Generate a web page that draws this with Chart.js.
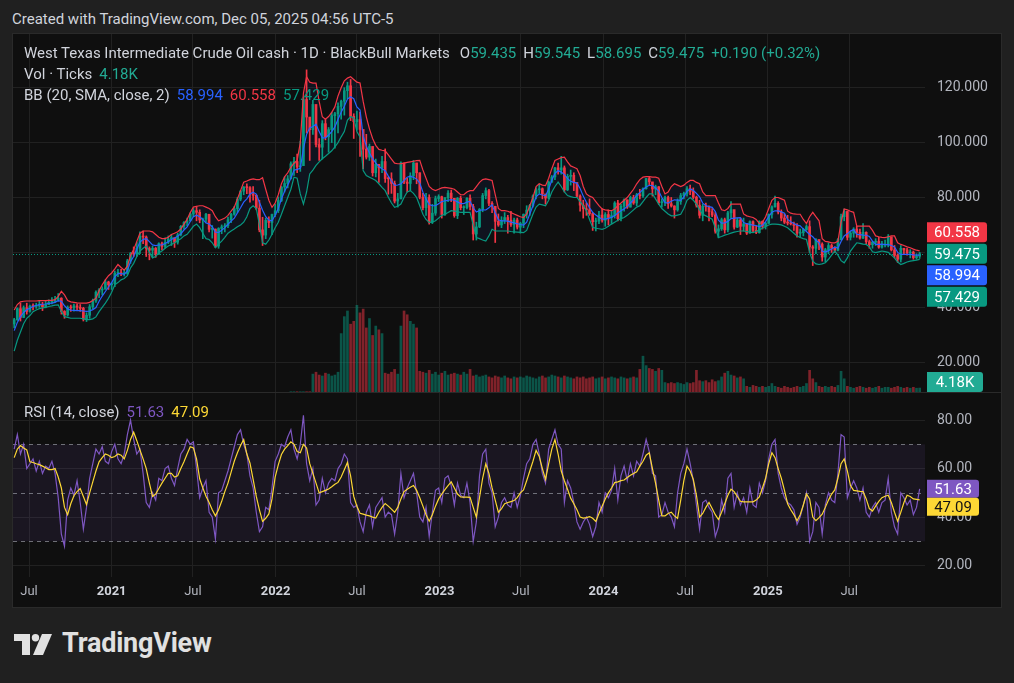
<!DOCTYPE html>
<html>
<head>
<meta charset="utf-8">
<title>West Texas Intermediate Crude Oil cash · 1D</title>
<script src="https://cdn.jsdelivr.net/npm/chart.js@4.4.1/dist/chart.umd.min.js"></script>
<style>
  html, body { margin: 0; padding: 0; background: #202020; width: 1014px; height: 683px; overflow: hidden; font-family: Roboto, 'Liberation Sans', sans-serif; }
  #panel { position: absolute; left: 13px; top: 34px; width: 988px; height: 573px; background: #0f0f0f; box-shadow: 0 0 0 1px #2a2a2a; }
  .wrap { position: absolute; left: 13px; width: 988px; }
  #priceWrap { top: 34px; height: 358px; }
  #rsiWrap { top: 393px; height: 214px; }
  #sep { position: absolute; left: 13px; top: 392px; width: 988px; height: 1px; background: #2a2a2a; }
  .txt { position: absolute; white-space: pre; font-size: 15px; line-height: 18px; color: #d1d4dc; }
  .txt span { margin-left: 7px; }
  .g { color: #22ab94; font-weight: normal; }
  .gap { margin-left: 10px !important; }
</style>
</head>
<body>
<div class="txt" style="left:12px;top:10px;">Created with TradingView.com, Dec 05, 2025 04:56 UTC-5</div>
<div id="panel"></div>
<div id="sep"></div>
<div class="wrap" id="priceWrap"><canvas id="priceChart"></canvas></div>
<div class="wrap" id="rsiWrap"><canvas id="rsiChart"></canvas></div>

<div class="txt" style="left:24px;top:44px;">West Texas Intermediate Crude Oil cash · 1D · BlackBull Markets<span class="gap">O<b class="g">59.435</b></span><span>H<b class="g">59.545</b></span><span>L<b class="g">58.695</b></span><span>C<b class="g">59.475</b></span><span class="g">+0.190 (+0.32%)</span></div>
<div class="txt" style="left:24px;top:65px;">Vol · Ticks<span class="g">4.18K</span></div>
<div class="txt" style="left:24px;top:86px;">BB (20, SMA, close, 2)<span style="color:#2962ff">58.994</span><span style="color:#f23645">60.558</span><span style="color:#089981">57.429</span></div>
<div class="txt" style="left:24px;top:403px;">RSI (14, close)<span style="color:#7e57c2">51.63</span><span style="color:#fdd835">47.09</span></div>

<svg style="position:absolute;left:14px;top:634px" width="40" height="22" viewBox="0 0 40 22">
  <path d="M0 0H16V21H8V7H0Z" fill="#e1e1e1"/>
  <circle cx="21.5" cy="3.8" r="3.7" fill="#e1e1e1"/>
  <path d="M28 0H38L29 21H19Z" fill="#e1e1e1"/>
</svg>
<div style="position:absolute;left:62px;top:628px;font:bold 27px Roboto, sans-serif;line-height:30px;color:#e1e1e1;letter-spacing:-0.2px;">TradingView</div>

<script>
// weekly samples, x = weeks since Fri 2020-05-15
const firstWeek = 2;
const firstOpen = 33.9;

const close = [
  35.5, 39.5, 36.3, 39.8, 38.5, 40.4, 40.3, 40.5, 41.0, 40.2,
  41.0, 41.8, 42.0, 42.8, 43.3, 38.5, 37.2, 40.0, 39.8, 40.5,
  40.0, 39.6, 35.7, 37.1, 40.2, 42.3, 45.5, 46.3, 46.6, 49.2,
  48.2, 48.6, 52.4, 52.6, 52.2, 52.3, 56.9, 59.6, 59.4, 61.5,
  65.9, 65.6, 61.4, 60.8, 61.5, 59.4, 63.2, 62.2, 63.7, 64.9,
  65.4, 63.7, 66.4, 69.5, 70.9, 71.5, 74.0, 75.2, 74.6, 71.8,
  72.1, 73.9, 68.4, 68.5, 62.3, 68.7, 69.3, 69.7, 71.9, 73.9,
  75.9, 79.4, 82.3, 83.8, 83.6, 81.3, 80.8, 76.1, 68.2, 66.3,
  71.7, 70.9, 73.8, 75.2, 78.9, 83.8, 85.1, 86.8, 92.3, 93.1,
  91.1, 91.6, 115.7, 109.3, 104.7, 113.9, 99.3, 98.3, 106.9, 102.1,
  104.7, 109.8, 110.5, 113.2, 115.1, 118.9, 120.7, 109.6, 107.6, 108.4,
  104.8, 97.6, 94.7, 98.6, 89.0, 92.1, 90.8, 93.1, 86.9, 86.8,
  85.1, 78.7, 79.5, 92.6, 85.6, 85.1, 87.9, 92.6, 89.0, 80.1,
  76.3, 80.0, 71.0, 74.3, 79.6, 80.3, 73.8, 79.9, 81.6, 79.7,
  73.4, 79.7, 76.3, 76.3, 79.7, 76.7, 66.7, 69.3, 75.7, 80.7,
  82.5, 77.9, 76.8, 71.3, 70.0, 71.7, 72.7, 71.7, 70.2, 71.8,
  69.2, 70.6, 73.9, 75.4, 77.1, 80.6, 82.8, 83.2, 81.3, 79.8,
  85.6, 87.5, 90.8, 90.0, 90.8, 82.8, 87.7, 88.1, 85.5, 80.5,
  77.2, 75.9, 75.5, 74.1, 71.2, 71.4, 73.6, 71.7, 73.8, 72.7,
  73.4, 78.0, 72.3, 76.8, 79.2, 76.5, 80.0, 78.0, 81.0, 80.6,
  83.2, 86.9, 85.7, 83.1, 83.9, 78.1, 78.3, 80.0, 77.7, 76.9,
  75.5, 78.5, 80.7, 81.5, 83.2, 82.2, 80.1, 77.2, 73.5, 76.8,
  76.6, 74.8, 73.6, 67.7, 68.6, 71.9, 68.2, 74.4, 75.6, 69.2,
  71.8, 69.5, 70.4, 67.0, 71.2, 68.0, 67.2, 71.3, 69.5, 70.6,
  73.9, 76.6, 77.9, 74.7, 72.5, 71.0, 70.7, 70.4, 69.8, 67.0,
  67.2, 68.3, 69.4, 62.0, 61.5, 64.7, 63.0, 58.3, 61.0, 62.5,
  61.5, 60.8, 64.6, 73.0, 74.9, 65.5, 67.0, 68.5, 67.3, 65.2,
  67.3, 63.9, 62.8, 63.7, 64.0, 61.9, 62.7, 62.7, 65.7, 60.9,
  58.9, 57.5, 61.5, 60.9, 59.8, 60.1, 58.1, 58.6, 59.475
];
const high = [
  36.0, 39.8, 41.5, 40.5, 41.5, 40.8, 41.3, 41.5, 42.4, 41.8,
  42.4, 42.7, 43.5, 44.0, 45.0, 43.5, 38.8, 40.5, 40.8, 41.2,
  41.3, 41.0, 40.0, 38.0, 41.0, 43.0, 46.0, 46.8, 47.5, 50.0,
  49.5, 49.0, 53.2, 53.8, 53.8, 53.5, 57.5, 60.0, 62.0, 63.8,
  67.5, 67.8, 66.0, 62.0, 62.2, 61.8, 63.5, 63.8, 65.3, 66.0,
  66.5, 65.0, 67.0, 69.8, 71.2, 72.5, 74.4, 76.0, 76.8, 75.5,
  72.5, 74.2, 73.5, 69.8, 68.5, 69.0, 70.0, 70.5, 72.9, 74.2,
  76.7, 80.0, 82.6, 84.0, 85.0, 84.0, 84.0, 81.0, 79.0, 72.8,
  72.5, 73.0, 74.0, 77.5, 80.2, 84.0, 87.5, 88.0, 93.0, 94.6,
  95.8, 100.5, 116.6, 126.5, 106.0, 115.4, 113.5, 101.5, 108.0, 108.5,
  105.5, 111.0, 111.0, 114.5, 115.5, 120.0, 122.0, 123.0, 110.5, 111.5,
  111.0, 104.5, 103.0, 99.5, 98.5, 94.0, 91.5, 95.0, 97.7, 87.5,
  89.0, 86.0, 81.5, 93.0, 92.5, 87.0, 89.0, 93.5, 92.5, 89.0,
  81.5, 81.5, 81.0, 77.5, 80.5, 81.0, 80.5, 80.0, 82.5, 82.7,
  79.5, 80.0, 80.5, 77.0, 80.0, 81.0, 77.5, 71.0, 76.0, 81.5,
  83.5, 83.0, 78.5, 76.5, 74.0, 73.0, 74.5, 73.5, 75.0, 72.5,
  72.5, 71.0, 74.0, 77.0, 77.5, 81.0, 83.5, 84.9, 83.5, 80.5,
  86.0, 88.0, 91.0, 92.5, 95.0, 91.5, 88.5, 90.0, 89.0, 84.0,
  81.0, 79.0, 78.0, 79.5, 74.5, 72.5, 75.0, 76.0, 74.5, 75.5,
  75.0, 78.5, 79.0, 77.5, 79.5, 79.0, 80.5, 80.8, 81.5, 83.0,
  83.5, 87.0, 87.6, 85.5, 84.5, 84.0, 79.5, 80.5, 80.5, 80.0,
  77.0, 79.5, 81.5, 82.0, 84.0, 84.5, 83.5, 80.5, 79.0, 77.5,
  78.0, 77.0, 76.0, 74.5, 70.0, 72.5, 72.5, 75.0, 78.5, 74.5,
  72.5, 72.5, 72.5, 70.5, 71.5, 71.5, 69.5, 71.5, 71.5, 71.0,
  74.0, 77.0, 80.5, 78.5, 75.5, 74.0, 73.5, 73.0, 71.0, 70.5,
  68.5, 68.8, 70.0, 71.5, 62.5, 65.0, 64.5, 63.5, 61.5, 63.5,
  63.0, 62.0, 65.0, 74.0, 75.8, 75.0, 67.5, 69.0, 69.5, 68.5,
  70.5, 67.5, 64.5, 64.0, 65.0, 65.5, 64.0, 64.5, 66.5, 65.5,
  62.5, 59.5, 62.5, 61.5, 61.5, 61.0, 60.5, 59.5, 60.0
];
const low = [
  32.5, 35.2, 35.0, 36.2, 37.5, 38.2, 39.0, 39.6, 40.0, 38.8,
  39.8, 41.0, 41.2, 41.8, 42.2, 37.5, 36.0, 36.8, 38.5, 38.6,
  38.8, 38.5, 35.0, 34.8, 36.0, 39.5, 41.8, 43.5, 44.5, 46.6,
  46.5, 46.5, 47.5, 51.2, 51.5, 51.4, 52.0, 56.0, 58.5, 58.5,
  59.5, 63.2, 58.5, 57.3, 58.2, 58.2, 59.2, 60.9, 61.5, 63.2,
  62.5, 61.8, 63.0, 66.0, 68.5, 69.6, 71.4, 73.0, 71.5, 70.8,
  65.0, 71.0, 67.5, 65.2, 61.8, 61.5, 66.8, 67.5, 69.0, 70.8,
  73.5, 74.5, 78.8, 81.0, 81.4, 78.3, 79.0, 75.5, 67.5, 62.5,
  65.0, 69.0, 66.5, 73.0, 74.5, 78.5, 82.0, 83.5, 86.8, 88.0,
  89.0, 89.5, 95.0, 103.5, 93.5, 103.0, 98.4, 93.5, 94.0, 101.0,
  96.5, 100.0, 98.0, 103.5, 108.5, 110.0, 116.0, 108.0, 101.5, 104.5,
  95.0, 90.5, 94.0, 93.5, 87.8, 87.5, 85.5, 89.0, 85.5, 81.2,
  81.5, 78.0, 76.5, 79.5, 85.0, 82.0, 82.5, 86.5, 85.0, 79.5,
  75.5, 73.5, 70.3, 70.5, 73.5, 78.5, 72.5, 73.5, 78.5, 78.5,
  72.8, 72.3, 75.5, 73.8, 75.8, 75.5, 64.5, 64.5, 69.0, 74.8,
  79.5, 77.0, 74.5, 63.6, 69.5, 69.0, 70.5, 67.0, 69.5, 67.0,
  68.5, 67.0, 69.0, 72.5, 73.5, 76.5, 79.5, 81.5, 79.5, 77.6,
  79.5, 85.5, 86.5, 88.5, 88.5, 82.0, 82.5, 84.5, 82.5, 80.0,
  75.0, 72.5, 73.5, 73.5, 68.0, 67.8, 70.5, 71.0, 69.5, 70.0,
  70.5, 72.5, 71.5, 71.5, 75.0, 76.0, 76.5, 77.5, 77.0, 79.5,
  80.0, 83.0, 84.5, 80.5, 81.0, 77.5, 76.5, 77.0, 76.0, 76.5,
  72.5, 75.0, 77.5, 79.5, 80.5, 81.0, 79.5, 76.5, 72.5, 71.5,
  75.0, 71.5, 73.0, 67.0, 65.3, 68.0, 67.0, 67.5, 72.5, 68.5,
  69.0, 66.5, 67.8, 66.5, 67.0, 67.5, 66.8, 67.0, 68.5, 68.5,
  70.5, 72.5, 76.5, 74.0, 71.5, 70.5, 70.0, 70.0, 68.0, 65.5,
  65.5, 66.0, 68.0, 60.0, 55.2, 59.5, 61.0, 56.8, 56.5, 59.5,
  60.0, 60.0, 60.5, 64.5, 71.5, 64.5, 64.5, 65.5, 65.5, 64.8,
  65.0, 63.0, 61.5, 61.5, 62.5, 61.5, 61.5, 62.0, 62.0, 60.5,
  58.0, 56.3, 56.5, 59.5, 59.0, 58.0, 57.5, 57.5, 57.8
];
const bbUpper = [
  39, 41, 42, 42.2, 42.3, 42.3, 42.3, 42.3, 42.4, 42.4,
  42.4, 42.5, 42.5, 42.8, 44, 45.8, 44.5, 42.5, 42, 41.8,
  41.6, 41.5, 41.5, 41.5, 41.8, 42.5, 43.3, 46, 48.2, 50,
  51.5, 52.5, 54, 55.6, 54.5, 53.5, 55, 59, 61, 64,
  67, 67.8, 67.8, 67.8, 67.5, 66.5, 65.5, 65, 65, 65.5,
  66.5, 67, 67.5, 68.5, 70.3, 72, 74.5, 76.5, 76.8, 77,
  77, 76.5, 76, 75.2, 73, 71.5, 72, 72.5, 73.5, 75,
  76.5, 79.5, 82.5, 85.6, 86, 86.5, 86.8, 86.5, 86.5, 87.2,
  83, 79, 76.4, 78, 81, 85, 87.5, 89, 91, 92.5,
  93.5, 100, 118, 124, 122, 121.7, 121.7, 115, 109.4, 108.5,
  109.5, 111, 113, 117, 120, 122.5, 123.5, 124, 123, 122,
  121.7, 115, 109.4, 105, 101.5, 99, 97.5, 97.2, 97, 95.5,
  94, 92.5, 92.3, 92.3, 92.5, 92.8, 93, 93.2, 93.4, 93.5,
  90, 87, 84, 83, 82.5, 83, 83.5, 83.7, 83.5, 83.3,
  83, 82, 81, 81, 82, 82.5, 82.5, 84, 85.5, 86.5,
  86.8, 86.5, 86.2, 81, 76, 75.2, 75.2, 75, 74.5, 74,
  73.5, 73, 72.7, 74, 77, 80, 84, 85, 84.5, 84.3,
  87, 90.5, 93.5, 94, 94.5, 94.7, 93, 91.5, 91, 90.5,
  88, 84, 81.3, 80.5, 80, 78.5, 77, 75.8, 75.5, 75.3,
  75.2, 75.8, 77, 78, 79, 80, 81.5, 83, 85, 86.5,
  87.4, 87.6, 87.6, 87.4, 87.4, 87, 84, 81.3, 82, 84,
  85, 84.5, 84, 84.5, 85.5, 86.2, 86.2, 85.5, 85, 82,
  80.7, 80.7, 80.7, 80.7, 78, 75.5, 75.2, 76, 77.6, 77.6,
  77.6, 77.6, 74, 73.3, 73, 72.7, 72, 70.5, 71, 73,
  76, 79, 80, 80, 79.5, 79, 75, 74.3, 74, 73.9,
  73.9, 72, 70.5, 73, 74.6, 73, 71.5, 65, 64, 63.8,
  63.5, 63.5, 64, 71, 75.8, 75.5, 75, 74.6, 69.6, 69.6,
  69.6, 69.6, 69.6, 68, 66, 65.7, 65.5, 65.4, 65.7, 66,
  66, 63.5, 62.9, 62.5, 62, 61.7, 61.2, 60.8, 60.558
];
const bbLower = [
  24, 28, 31, 34, 36, 37, 38.4, 39, 39.5, 39.8,
  40, 40.3, 40.5, 40.8, 40.9, 38.5, 36.6, 36.3, 36, 36,
  36, 36, 35.8, 35.5, 35.5, 35.8, 36.5, 38.4, 40, 41.5,
  43.3, 45.5, 48.2, 49, 50, 50.5, 51.5, 54.3, 56, 58.5,
  60.5, 61.5, 62.3, 60, 58, 58.5, 59.9, 60.5, 61.5, 62.3,
  62.9, 63.5, 64.3, 65, 66, 66.6, 68, 69.5, 70.3, 69,
  67, 65, 64.7, 63.5, 61.7, 63, 64.1, 65.5, 67, 67.8,
  68.5, 69.3, 70, 71, 73, 76, 77, 76, 70, 63.5,
  63, 64.5, 66.6, 69, 71, 73.9, 77, 80, 83, 87.4,
  87, 81.3, 77.6, 82, 88.6, 90, 91.7, 93, 94.1, 95,
  96, 97, 98.4, 100, 102.1, 104, 108.2, 109.4, 109, 104,
  102, 89.8, 88, 87.4, 86.8, 86.2, 85, 83.7, 82.5, 80.1,
  78, 76.4, 76.8, 77.6, 80, 82, 82.5, 81.5, 80, 77,
  73.9, 72, 70.9, 71, 71.5, 72.5, 73.5, 73.9, 74.5, 75.2,
  75, 74.8, 74.6, 74.6, 74.6, 74.6, 70, 65.4, 65, 64.5,
  64.1, 66, 68.4, 67.8, 67.8, 67.8, 67.8, 67.8, 67.6, 67.5,
  67.4, 67.3, 67.2, 68, 71, 74, 76.5, 77.6, 77.3, 77,
  79, 82, 84, 85.6, 84, 82, 80.7, 80.3, 80, 80,
  78.5, 77, 75.2, 72, 69.1, 68.8, 68.6, 68.4, 68.8, 69.5,
  70.3, 71, 71.7, 72.3, 72.7, 73.5, 74.5, 75.5, 76.5, 77,
  78.5, 80, 81.3, 81.3, 79.5, 77.6, 76, 75, 74, 73.3,
  73.3, 73.6, 73.9, 76, 79, 80, 79, 77.5, 75.5, 73.9,
  73.3, 72.7, 72.1, 69, 65.4, 65.8, 66.3, 66.6, 67, 67.4,
  67.6, 67.8, 67.8, 67.6, 67.4, 67.2, 67.6, 68.2, 68.8, 69.4,
  70, 70.3, 70.3, 70.2, 70, 69.5, 69, 68, 67, 66,
  65.4, 65, 64.7, 60, 56.8, 55.8, 55.6, 55.8, 56.2, 57.5,
  59, 60.5, 59, 57, 56.2, 58, 60.5, 62, 63.5, 63.3,
  63, 62.9, 62, 60.2, 59.9, 60.2, 60.5, 60.3, 60, 59,
  58, 56.5, 55.6, 56, 56.5, 56.8, 57, 57.2, 57.429
];

// volume in thousand ticks; the feed has no volume before week 90
const volFirstWeek = 90;
const volume = [
  0.3, 0.3,
  0.3, 0.3, 0.3, 0.3, 0.3, 19, 21, 18, 17, 20,
  19, 17, 18, 21, 62, 80, 86, 72, 75, 92,
  84, 88, 68, 78, 60, 70, 66, 62, 20, 19,
  21, 24, 19, 70, 86, 82, 75, 72, 68, 22,
  21, 20, 23, 19, 21, 18, 20, 22, 18, 19,
  20, 19, 18, 21, 19, 24, 17, 18, 16, 17,
  18, 16, 15, 17, 16, 15, 17, 15, 14, 16,
  15, 16, 15, 17, 16, 15, 14, 16, 17, 15,
  16, 18, 17, 16, 15, 17, 16, 15, 14, 16,
  15, 16, 14, 15, 16, 14, 15, 16, 14, 15,
  16, 15, 14, 16, 15, 14, 15, 16, 15, 24,
  38, 28, 25, 24, 22, 25, 23, 10, 9, 10,
  9, 10, 9, 8, 10, 9, 10, 23, 12, 11,
  12, 10, 13, 11, 12, 16, 20, 22, 18, 17,
  15, 16, 14, 6, 5, 7, 6, 5, 6, 5,
  6, 9, 6, 5, 4, 6, 5, 4, 5, 6,
  5, 6, 9, 23, 14, 10, 6, 5, 6, 5,
  6, 5, 7, 22, 14, 6, 5, 4, 5, 6,
  5, 4, 5, 4, 5, 6, 4, 5, 5, 4,
  5, 6, 5, 4, 5, 4, 5, 4, 4.18
];

const rsi = [
  68, 74, 66, 70, 60, 62, 64, 59, 63, 58,
  61, 60, 63, 58, 48, 33, 28, 47, 52, 49,
  55, 46, 35, 44, 56, 62, 68, 66, 69, 63,
  62, 67, 70, 64, 62, 66, 74, 80, 72, 66,
  68, 58, 46, 44, 50, 47, 56, 55, 60, 61,
  56, 53, 60, 66, 68, 72, 70, 71, 60, 48,
  52, 55, 42, 40, 31, 50, 51, 55, 59, 64,
  69, 74, 76, 70, 66, 57, 52, 42, 34, 36,
  44, 43, 52, 63, 66, 70, 69, 73, 76, 68,
  64, 70, 82, 62, 55, 60, 45, 47, 56, 50,
  54, 56, 55, 60, 62, 66, 64, 46, 44, 45,
  38, 34, 42, 45, 36, 44, 46, 48, 40, 42,
  41, 33, 42, 58, 48, 52, 55, 58, 50, 40,
  38, 44, 32, 42, 51, 52, 46, 56, 57, 53,
  45, 54, 49, 48, 54, 46, 30, 38, 57, 66,
  68, 54, 50, 36, 40, 46, 48, 45, 44, 50,
  44, 49, 56, 62, 64, 70, 72, 66, 58, 54,
  68, 72, 76, 70, 68, 46, 55, 52, 46, 38,
  35, 38, 40, 37, 32, 36, 46, 42, 50, 48,
  51, 60, 47, 57, 61, 55, 62, 57, 63, 61,
  66, 72, 67, 58, 57, 40, 41, 46, 42, 40,
  36, 50, 58, 62, 68, 62, 55, 45, 35, 46,
  47, 44, 42, 32, 36, 47, 42, 56, 58, 44,
  50, 45, 48, 42, 52, 45, 44, 54, 50, 55,
  64, 70, 72, 58, 52, 48, 46, 45, 43, 37,
  40, 45, 50, 30, 34, 46, 44, 33, 45, 50,
  47, 46, 58, 74, 73, 48, 52, 55, 52, 47,
  52, 42, 40, 44, 46, 42, 46, 47, 56, 42,
  36, 33, 50, 48, 45, 47, 41, 44, 51.63
];
const rsiMa = [
  64.5, 68, 69.5, 68.5, 67.7, 62.8, 62.5, 62, 61.6, 61,
  60.3, 59.6, 59.6, 60, 56.5, 52, 44, 41, 45.5, 48.8,
  50.5, 51.8, 48.5, 45.2, 50, 54.5, 59, 62.8, 64.5, 66,
  65.5, 64.5, 65, 66, 65.5, 64, 67.5, 72, 75, 71.5,
  67.7, 64, 60, 54, 48.5, 49.5, 51.8, 54, 56, 58,
  58, 56.5, 57, 60, 62.8, 66, 69, 68.5, 64, 55.8,
  52, 48.6, 46, 43, 40.5, 43, 46.5, 50.5, 54, 58.5,
  63, 66.5, 69.5, 72, 66, 62.2, 55.5, 48.5, 43, 38.2,
  39.5, 41.3, 47.5, 56.5, 61.5, 65.8, 68, 69.5, 71, 70,
  67, 66.5, 70, 68.5, 62, 58, 54, 50, 50.5, 51,
  51.6, 52.5, 53.5, 54.3, 56.5, 59.5, 62.5, 57, 48.5, 44.5,
  41.6, 41.2, 40.8, 40.5, 40, 39.6, 42, 44, 45.6, 44.5,
  43.3, 42, 44, 47.5, 50.5, 51.5, 52.3, 53, 51, 48,
  44.5, 41, 38.3, 41, 44.5, 47.5, 49.5, 51.3, 53, 54.5,
  52, 49.5, 48.3, 48.2, 48.2, 48.1, 44, 40, 48, 56,
  62, 58, 52, 47, 42, 43.5, 45.5, 46, 46.4, 46.8,
  48, 50, 51.2, 55, 59, 63, 67.5, 65, 60, 55.5,
  62, 68, 72, 66, 59, 55, 51.5, 47.8, 45.5, 43,
  40, 39.6, 39.8, 40.2, 39.5, 38.2, 41.5, 44.5, 47.5, 50,
  52, 54.2, 54.5, 55, 55.3, 56.3, 57.2, 58, 58.7, 61,
  63, 65.5, 66.5, 60, 54, 47, 40.5, 40.5, 41.5, 42,
  40.5, 39.5, 47, 55, 61, 59, 55.5, 49, 40, 41.5,
  44, 46, 43.5, 41, 39, 42, 45.5, 49, 51.5, 50.5,
  48.5, 46.5, 46.3, 46.3, 46.3, 46.3, 47, 48.3, 52, 56,
  62, 66.5, 64.5, 60, 56, 51, 45.5, 43, 41, 38.5,
  41, 45, 49.5, 47.5, 40, 38.5, 39.8, 41.2, 44, 47,
  49.5, 51.2, 56, 62, 64, 59, 53, 51, 50.8, 50.6,
  50.5, 47.5, 43.5, 42.5, 44.5, 46.5, 48, 48.6, 49, 46,
  42, 38.3, 42, 46, 49, 48.5, 47.5, 47.3, 47.09
];

const tickPos = [6.714, 33, 58.857, 85.143, 111, 137.286, 163.143, 189.429, 215.429, 241.714, 267.571];
const tickLabels = ['Jul', '2021', 'Jul', '2022', 'Jul', '2023', 'Jul', '2024', 'Jul', '2025', 'Jul'];
const priceTicks = [20, 40, 60, 80, 100, 120];
const rsiTicks = [20, 40, 60, 80];
const basisLabel = '58.994';

const UP = '#089981', DOWN = '#f23645';
const gridColor = '#212121';
const axisText = '#b2b5be';
const font = 'Roboto, sans-serif';

const open = close.map((c, k) => k ? close[k - 1] : firstOpen);
const isUp = close.map((c, k) => c >= open[k]);
const bbBasis = bbUpper.map((u, k) => (u + bbLower[k]) / 2);
const pts = arr => arr.map((v, k) => ({ x: firstWeek + k, y: v }));
const last = close.length - 1;

function xScale(showLabels) {
    return {
        type: 'linear',
        min: 1.62,
        max: 291.7,
        offset: false,
        afterBuildTicks: s => { s.ticks = tickPos.map(v => ({ value: v })); },
        grid: { color: gridColor, drawTicks: false, offset: false },
        border: { display: false },
        ticks: {
            display: showLabels,
            autoSkip: false,
            maxRotation: 0,
            padding: 7,
            color: ctx => /^\d/.test(tickLabels[ctx.index]) ? '#d1d4dc' : axisText,
            font: ctx => ({ family: font, size: 13, weight: /^\d/.test(tickLabels[ctx.index]) ? 'bold' : 'normal' }),
            callback: (v, i) => tickLabels[i],
        },
        afterFit: s => { s.height = showLabels ? 30 : 0; },
    };
}

function valueScale(min, max, ticks, digits) {
    return {
        position: 'right',
        min: min,
        max: max,
        afterBuildTicks: s => { s.ticks = ticks.map(v => ({ value: v })); },
        grid: { color: gridColor, drawTicks: false },
        border: { display: false },
        ticks: { color: axisText, font: { family: font, size: 14 }, padding: 12, callback: v => v.toFixed(digits) },
        afterFit: s => { s.width = 76; s.paddingTop = 0; s.paddingBottom = 0; },
    };
}

function tag(ctx, x, y, w, h, bg, fg, text) {
    ctx.fillStyle = bg;
    ctx.beginPath();
    ctx.roundRect(x, y - h / 2, w, h, [0, 3, 3, 0]);
    ctx.fill();
    ctx.fillStyle = fg;
    ctx.font = '15px ' + font;
    ctx.textAlign = 'center';
    ctx.textBaseline = 'middle';
    ctx.fillText(text, x + w / 2, y + 1);
}

const priceMarks = {
    id: 'priceMarks',
    beforeDatasetsDraw(chart) {
        const { ctx, chartArea: a, scales: { y } } = chart;
        const py = Math.round(y.getPixelForValue(close[last])) + 0.5;
        ctx.save();
        ctx.strokeStyle = UP;
        ctx.lineWidth = 1;
        ctx.setLineDash([1, 2]);
        ctx.beginPath();
        ctx.moveTo(a.left, py);
        ctx.lineTo(a.right, py);
        ctx.stroke();
        ctx.restore();
    },
    afterDraw(chart) {
        const { ctx, chartArea: a, scales: { y, yv } } = chart;
        const h = 21.5;
        const cY = y.getPixelForValue(close[last]);
        const upY = Math.min(y.getPixelForValue(bbUpper[last]), cY - h);
        const midY = Math.max(y.getPixelForValue(bbBasis[last]), cY + h);
        const loY = Math.max(y.getPixelForValue(bbLower[last]), midY + h);
        ctx.save();
        tag(ctx, a.right + 2, upY, 60, 20, DOWN, '#fff', bbUpper[last].toFixed(3));
        tag(ctx, a.right + 2, cY, 60, 20, UP, '#fff', close[last].toFixed(3));
        tag(ctx, a.right + 2, midY, 60, 20, '#2962ff', '#fff', basisLabel);
        tag(ctx, a.right + 2, loY, 60, 20, UP, '#fff', bbLower[last].toFixed(3));
        const vY = Math.min(yv.getPixelForValue(volume[volume.length - 1]), a.bottom - 10);
        tag(ctx, a.right + 2, vY, 56, 20, '#22ab94', '#fff', volume[volume.length - 1].toFixed(2) + 'K');
        ctx.restore();
    },
};

new Chart(document.getElementById('priceChart'), {
    type: 'bar',
    data: {
        datasets: [
            {
                type: 'bar', yAxisID: 'yv', order: 6, grouped: false, barThickness: 2,
                data: volume.map((v, k) => ({ x: volFirstWeek + k, y: v })),
                backgroundColor: volume.map((v, k) => isUp[volFirstWeek + k - firstWeek] ? 'rgba(8,153,129,0.5)' : 'rgba(242,54,69,0.5)'),
            },
            {
                type: 'line', order: 0, data: pts(bbUpper), borderColor: DOWN, borderWidth: 1.2,
                pointRadius: 0, fill: 2, backgroundColor: 'rgba(41,98,255,0.07)',
            },
            { type: 'line', order: 0, data: pts(bbLower), borderColor: UP, borderWidth: 1.2, pointRadius: 0, fill: false },
            { type: 'line', order: 0, data: pts(bbBasis), borderColor: '#2962ff', borderWidth: 1.2, pointRadius: 0, fill: false },
            {
                type: 'bar', order: 3, grouped: false, barThickness: 1,
                data: low.map((l, k) => ({ x: firstWeek + k, y: [l, high[k]] })),
                backgroundColor: isUp.map(u => u ? UP : DOWN),
            },
            {
                type: 'bar', order: 2, grouped: false, barThickness: 2, minBarLength: 1,
                data: close.map((c, k) => ({ x: firstWeek + k, y: [open[k], c] })),
                backgroundColor: isUp.map(u => u ? UP : DOWN),
            },
        ],
    },
    options: {
        responsive: true,
        maintainAspectRatio: false,
        animation: false,
        events: [],
        layout: { padding: 0 },
        plugins: { legend: { display: false }, tooltip: { enabled: false }, filler: { drawTime: 'beforeDatasetsDraw' } },
        scales: {
            x: xScale(false),
            y: valueScale(9.14, 139.56, priceTicks, 3),
            yv: { display: false, min: 0, max: 380 },
        },
    },
    plugins: [priceMarks],
});

const rsiMarks = {
    id: 'rsiMarks',
    beforeDatasetsDraw(chart) {
        const { ctx, chartArea: a, scales: { y } } = chart;
        const y70 = y.getPixelForValue(70), y30 = y.getPixelForValue(30);
        ctx.save();
        ctx.fillStyle = 'rgba(126,87,194,0.1)';
        ctx.fillRect(a.left, y70, a.right - a.left, y30 - y70);
        ctx.strokeStyle = 'rgba(149,152,161,0.7)';
        ctx.lineWidth = 1;
        ctx.setLineDash([4, 4]);
        [70, 50, 30].forEach(v => {
            const py = Math.round(y.getPixelForValue(v)) + 0.5;
            ctx.beginPath();
            ctx.moveTo(a.left, py);
            ctx.lineTo(a.right, py);
            ctx.stroke();
        });
        ctx.restore();
    },
    afterDraw(chart) {
        const { ctx, chartArea: a, scales: { y } } = chart;
        const rY = y.getPixelForValue(rsi[last]);
        const mY = Math.max(y.getPixelForValue(rsiMa[last]), rY + 18);
        ctx.save();
        tag(ctx, a.right + 2, rY, 52, 18, '#7e57c2', '#fff', rsi[last].toFixed(2));
        tag(ctx, a.right + 2, mY, 52, 18, '#fdd835', '#131313', rsiMa[last].toFixed(2));
        ctx.restore();
    },
};

new Chart(document.getElementById('rsiChart'), {
    type: 'line',
    data: {
        datasets: [
            { data: pts(rsiMa), borderColor: '#fdd835', borderWidth: 1.2, pointRadius: 0, order: 0 },
            { data: pts(rsi), borderColor: '#7e57c2', borderWidth: 1.2, pointRadius: 0, order: 1 },
        ],
    },
    options: {
        responsive: true,
        maintainAspectRatio: false,
        animation: false,
        events: [],
        layout: { padding: 0 },
        plugins: { legend: { display: false }, tooltip: { enabled: false } },
        scales: {
            x: xScale(true),
            y: valueScale(15.3, 91.15, rsiTicks, 2),
        },
    },
    plugins: [rsiMarks],
});
</script>
</body>
</html>
